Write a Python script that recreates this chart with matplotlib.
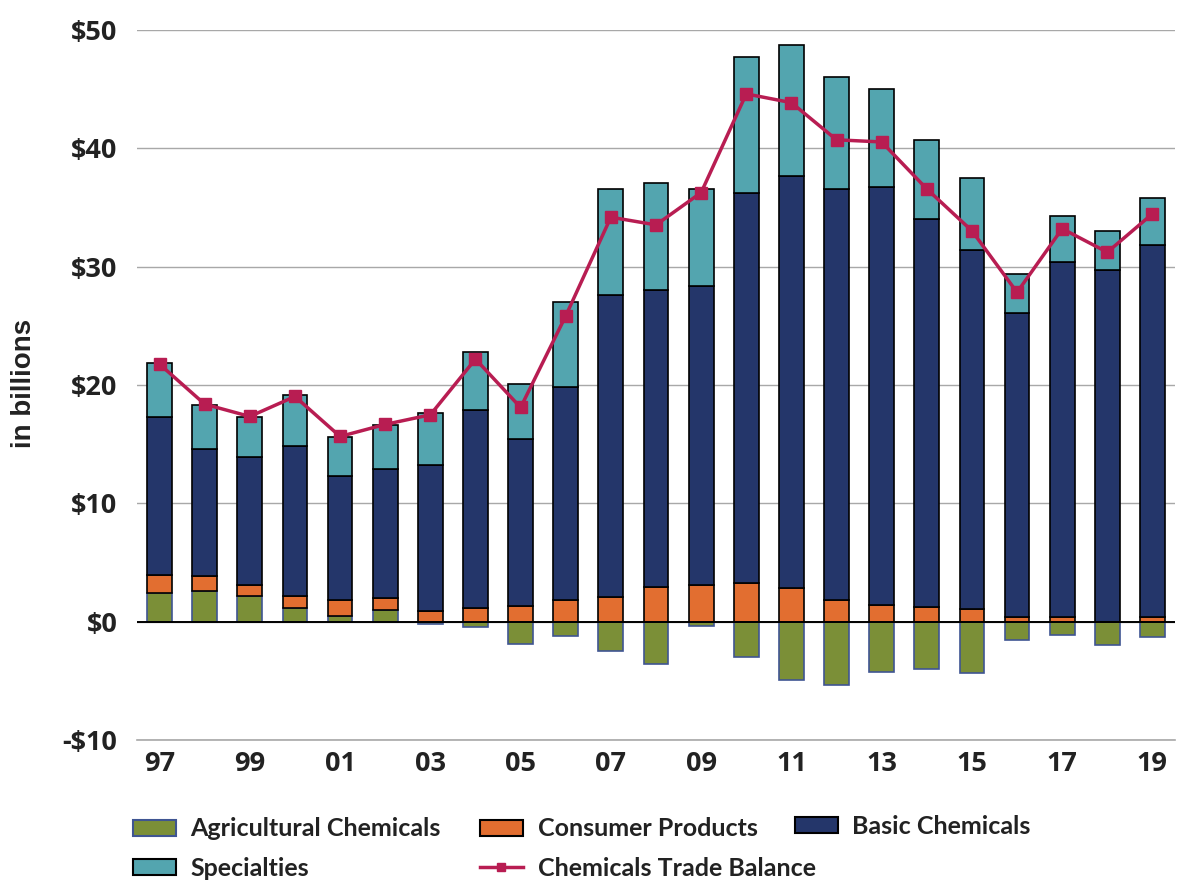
import numpy as np
import matplotlib
matplotlib.use("Agg")
import matplotlib.pyplot as plt
from matplotlib.patches import Patch
from matplotlib.lines import Line2D

years = ["97", "98", "99", "00", "01", "02", "03", "04", "05", "06", "07", "08",
         "09", "10", "11", "12", "13", "14", "15", "16", "17", "18", "19"]
agricultural = [2.42, 2.56, 2.14, 1.15, 0.45, 1.01, -0.20, -0.45, -1.89, -1.18, -2.50, -3.60,
                -0.34, -3.00, -4.96, -5.35, -4.24, -3.99, -4.34, -1.56, -1.10, -1.99, -1.28]
consumer = [1.55, 1.27, 0.98, 0.99, 1.41, 0.99, 0.87, 1.15, 1.30, 1.86, 2.06, 2.90,
            3.12, 3.27, 2.84, 1.87, 1.44, 1.25, 1.07, 0.42, 0.42, 0.00, 0.42]
basic = [13.32, 10.77, 10.78, 12.72, 10.47, 10.92, 12.33, 16.70, 14.16, 17.99, 25.56, 25.14,
         25.26, 32.99, 34.81, 34.66, 35.27, 32.75, 30.33, 25.64, 30.01, 29.75, 31.42]
specialties = [4.56, 3.70, 3.40, 4.29, 3.27, 3.66, 4.40, 4.98, 4.64, 7.20, 8.92, 9.06,
               8.16, 11.44, 11.08, 9.50, 8.34, 6.68, 6.10, 3.36, 3.83, 3.28, 3.96]
trade_balance = [21.76, 18.38, 17.34, 19.03, 15.65, 16.67, 17.48, 22.19, 18.10, 25.84, 34.18, 33.53,
                 36.26, 44.60, 43.86, 40.72, 40.54, 36.57, 33.03, 27.83, 33.21, 31.22, 34.47]
y_ticks = [-10, 0, 10, 20, 30, 40, 50]
y_ticklabels = ["-$10", "$0", "$10", "$20", "$30", "$40", "$50"]
series_names = ["Agricultural Chemicals", "Consumer Products", "Basic Chemicals",
                "Specialties", "Chemicals Trade Balance"]

c_ag = "#7B8F37"
c_cons = "#E26E30"
c_basic = "#24366A"
c_spec = "#53A5AF"
c_line = "#B81D52"
ag_edge = "#3F5592"

x = np.arange(len(years))
ag = np.array(agricultural)
cons = np.array(consumer)
bas = np.array(basic)
spe = np.array(specialties)
b_cons = np.maximum(ag, 0)
b_basic = b_cons + cons
b_spec = b_basic + bas

fig = plt.figure(figsize=(11.88, 8.86), dpi=100)
ax = fig.add_axes([137/1188, 1-740/886, (1175-137)/1188, (740-30)/886])

w = 0.55
ax.bar(x, ag, w, color=c_ag, edgecolor=ag_edge, linewidth=1.2, zorder=2)
ax.bar(x, cons, w, bottom=b_cons, color=c_cons, edgecolor="black", linewidth=1.2, zorder=2)
ax.bar(x, bas, w, bottom=b_basic, color=c_basic, edgecolor="black", linewidth=1.2, zorder=2)
ax.bar(x, spe, w, bottom=b_spec, color=c_spec, edgecolor="black", linewidth=1.2, zorder=2)
ax.axhline(0, color="black", linewidth=1.4, zorder=3)
ax.axhline(-10, color="#A8A8A8", linewidth=1.2, zorder=1, clip_on=False)
ax.plot(x, trade_balance, color=c_line, linewidth=2.5, marker="s", markersize=8,
        markerfacecolor=c_line, markeredgecolor=c_line, zorder=4)

ax.set_xlim(-0.5, len(years) - 0.5)
ax.set_ylim(-10, 50)
ax.set_yticks(y_ticks)
ax.set_yticklabels(y_ticklabels)
ax.set_xticks(x[::2])
ax.set_xticklabels(years[::2])
ax.yaxis.grid(True, color="#A8A8A8", linewidth=1.0, zorder=0)
ax.set_axisbelow(True)
for s in ax.spines.values():
    s.set_visible(False)
ax.tick_params(axis="both", length=0)
ax.tick_params(axis="y", pad=14)
ax.tick_params(axis="x", pad=8)
for lab in ax.get_yticklabels() + ax.get_xticklabels():
    lab.set_fontfamily(["Open Sans", "DejaVu Sans"])
    lab.set_fontweight("bold")
    lab.set_fontsize(19.5)
    lab.set_color("#222222")

fig.text(24/1188, 1-383/886, "in billions", rotation=90, ha="center", va="center",
         fontsize=20, fontweight="bold", family=["Liberation Sans", "DejaVu Sans"], color="#222222")

handles = [
    Patch(facecolor=c_ag, edgecolor=ag_edge, linewidth=1.5),
    Patch(facecolor=c_cons, edgecolor="black", linewidth=1.5),
    Patch(facecolor=c_basic, edgecolor="black", linewidth=1.5),
    Patch(facecolor=c_spec, edgecolor="black", linewidth=1.5),
    Line2D([0], [0], color=c_line, linewidth=2.5, marker="s", markersize=6),
]
positions = [(133, 829), (480, 829), (795, 826), (133, 868), (480, 868)]
for h, name, (px, py) in zip(handles, series_names, positions):
    fig.legend([h], [name], loc="center left", bbox_to_anchor=(px/1188, 1-py/886),
               frameon=False, borderpad=0, borderaxespad=0, handlelength=1.7,
               handleheight=0.6, handletextpad=0.6,
               prop={"family": ["Lato", "DejaVu Sans"], "size": 18, "weight": "bold"},
               labelcolor="#222222")

fig.savefig("out.png", dpi=100)
